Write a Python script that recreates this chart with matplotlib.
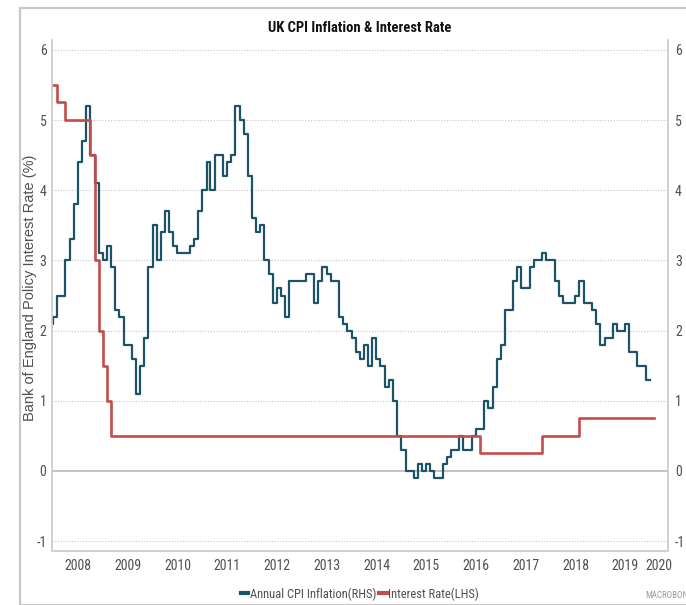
import matplotlib
matplotlib.use("Agg")
import matplotlib.pyplot as plt
import matplotlib.dates as mdates
import pandas as pd
import numpy as np
from matplotlib.lines import Line2D
from matplotlib.patches import Rectangle

# ---------------- data ----------------
title = "UK CPI Inflation & Interest Rate"
left_label = "Bank of England Policy Interest Rate (%)"
right_label = "Annual CPI Inflation Rate (%)"
series_names = ["Annual CPI Inflation(RHS)", "Interest Rate(LHS)"]

cpi_start = "2007-12-01"
cpi_values = [
    2.1,
    2.2, 2.5, 2.5, 3.0, 3.3, 3.8, 4.4, 4.7, 5.2, 4.5, 4.1, 3.1,   # 2008
    3.0, 3.2, 2.9, 2.3, 2.2, 1.8, 1.8, 1.6, 1.1, 1.5, 1.9, 2.9,   # 2009
    3.5, 3.0, 3.4, 3.7, 3.4, 3.2, 3.1, 3.1, 3.1, 3.2, 3.3, 3.7,   # 2010
    4.0, 4.4, 4.0, 4.5, 4.5, 4.2, 4.4, 4.5, 5.2, 5.0, 4.8, 4.2,   # 2011
    3.6, 3.4, 3.5, 3.0, 2.8, 2.4, 2.6, 2.5, 2.2, 2.7, 2.7, 2.7,   # 2012
    2.7, 2.8, 2.8, 2.4, 2.7, 2.9, 2.8, 2.7, 2.7, 2.2, 2.1, 2.0,   # 2013
    1.9, 1.7, 1.6, 1.8, 1.5, 1.9, 1.6, 1.5, 1.2, 1.3, 1.0, 0.5,   # 2014
    0.3, 0.0, 0.0, -0.1, 0.1, 0.0, 0.1, 0.0, -0.1, -0.1, 0.1, 0.2,  # 2015
    0.3, 0.3, 0.5, 0.3, 0.3, 0.5, 0.6, 0.6, 1.0, 0.9, 1.2, 1.6,   # 2016
    1.8, 2.3, 2.3, 2.7, 2.9, 2.6, 2.6, 2.9, 3.0, 3.0, 3.1, 3.0,   # 2017
    3.0, 2.7, 2.5, 2.4, 2.4, 2.4, 2.5, 2.7, 2.4, 2.4, 2.3, 2.1,   # 2018
    1.8, 1.9, 1.9, 2.1, 2.0, 2.0, 2.1, 1.7, 1.7, 1.5, 1.5, 1.3,   # 2019
]

rate_change_months = ["2007-12-01", "2008-02-01", "2008-04-01", "2008-10-01",
                      "2008-11-01", "2008-12-01", "2009-01-01", "2009-02-01",
                      "2009-03-01", "2016-08-01", "2017-11-01", "2018-08-01"]
rate_values = [5.5, 5.25, 5.0, 4.5, 3.0, 2.0, 1.5, 1.0, 0.5, 0.25, 0.5, 0.75]
rate_last_month = "2020-01-01"

y_ticks = [-1, 0, 1, 2, 3, 4, 5, 6]
year_labels = list(range(2008, 2021))
x_range = ("2007-12-24", "2020-05-12")

# ---------------- style ----------------
CPI_COLOR = "#1d5366"
RATE_COLOR = "#c44c4a"
GRID = "#c8c8c8"
TXT = "#505050"
NARROW = ["Noto Sans Condensed", "Liberation Sans Narrow", "Roboto Condensed",
          "Liberation Sans", "DejaVu Sans"]
REGULAR = ["Liberation Sans", "DejaVu Sans"]
plt.rcParams["font.family"] = NARROW

W, H = 686, 605
fig = plt.figure(figsize=(W / 100, H / 100), dpi=100)
fig.patch.set_facecolor("white")

# outer frame
fig.add_artist(Rectangle((20 / W, 0), 1.0, 1 - 8 / H, transform=fig.transFigure,
                         fill=False, edgecolor="#c8c8c8", lw=1.6, clip_on=False))

ax = fig.add_axes([52 / W, 1 - 551 / H, (668 - 52) / W, (551 - 40) / H])
ax2 = ax.twinx()

# CPI series (monthly steps, each value held for its month)
cpi_dates = pd.date_range(cpi_start, periods=len(cpi_values), freq="MS")
cpi_x = list(cpi_dates) + [cpi_dates[-1] + pd.offsets.MonthBegin(1)]
cpi_y = list(cpi_values) + [cpi_values[-1]]
ax.plot(cpi_x, cpi_y, drawstyle="steps-post", color=CPI_COLOR, lw=1.6, zorder=3)

# interest rate
rate_x = [pd.Timestamp(d) for d in rate_change_months] + \
         [pd.Timestamp(rate_last_month) + pd.offsets.MonthBegin(1)]
rate_y = list(rate_values) + [rate_values[-1]]
ax.plot(rate_x, rate_y, drawstyle="steps-post", color=RATE_COLOR, lw=1.9, zorder=4)

xmin, xmax = pd.Timestamp(x_range[0]), pd.Timestamp(x_range[1])
ax.set_xlim(xmin, xmax)
ylim = (-1.14, 6.14)
ax.set_ylim(*ylim)
ax2.set_ylim(*ylim)

# grid
for t in y_ticks:
    if t == 0:
        ax.axhline(t, color="#bdbdbd", lw=1.3, zorder=1)
    else:
        ax.axhline(t, color=GRID, lw=0.8, ls=(0, (1, 1.5)), zorder=1)

# x tick labels centred in each year
centers = []
for y in year_labels:
    a = max(pd.Timestamp(f"{y}-01-01"), xmin)
    b = min(pd.Timestamp(f"{y + 1}-01-01"), xmax)
    centers.append(mdates.date2num(a) + (mdates.date2num(b) - mdates.date2num(a)) / 2)
ax.set_xticks(centers)
ax.set_xticklabels([str(y) for y in year_labels])
ax.tick_params(axis="x", length=0, pad=6, labelsize=10, labelcolor=TXT)

for a_ in (ax, ax2):
    a_.set_yticks(y_ticks)
    a_.set_yticklabels([str(t) for t in y_ticks])
ax.tick_params(axis="y", length=0, pad=4, labelsize=10, labelcolor=TXT)
ax2.tick_params(axis="y", length=0, pad=5, labelsize=10, labelcolor=TXT)

for a_ in (ax, ax2):
    a_.spines["top"].set_visible(False)
    for s in ("left", "right", "bottom"):
        a_.spines[s].set_color("#d0d0d0")
        a_.spines[s].set_linewidth(1.2)

fig.text(30 / W, 1 - 288 / H, left_label, rotation=90, ha="center", va="center",
         family=REGULAR, fontsize=10.5, color=TXT)
fig.text(685 / W, 1 - 295 / H, right_label, rotation=270, ha="left", va="center",
         family=REGULAR, fontsize=9.5, color="#888888")

fig.text(360 / W, 1 - 28 / H, title, ha="center", va="center", fontsize=10.5,
         fontweight="bold", color="#111111")

handles = [Line2D([], [], color=CPI_COLOR, lw=3), Line2D([], [], color=RATE_COLOR, lw=3)]
fig.legend(handles, series_names, loc="center", bbox_to_anchor=(360 / W, 1 - 594 / H),
           ncol=2, frameon=False, fontsize=9, handlelength=0.6, handletextpad=0.15,
           columnspacing=0.2, labelcolor=TXT, borderpad=0, borderaxespad=0)

fig.text(645 / W, 1 - 595 / H, "MACROBOND", fontsize=6.5, color="#999999",
         ha="left", va="center")

fig.savefig("out.png", dpi=100, facecolor="white")
